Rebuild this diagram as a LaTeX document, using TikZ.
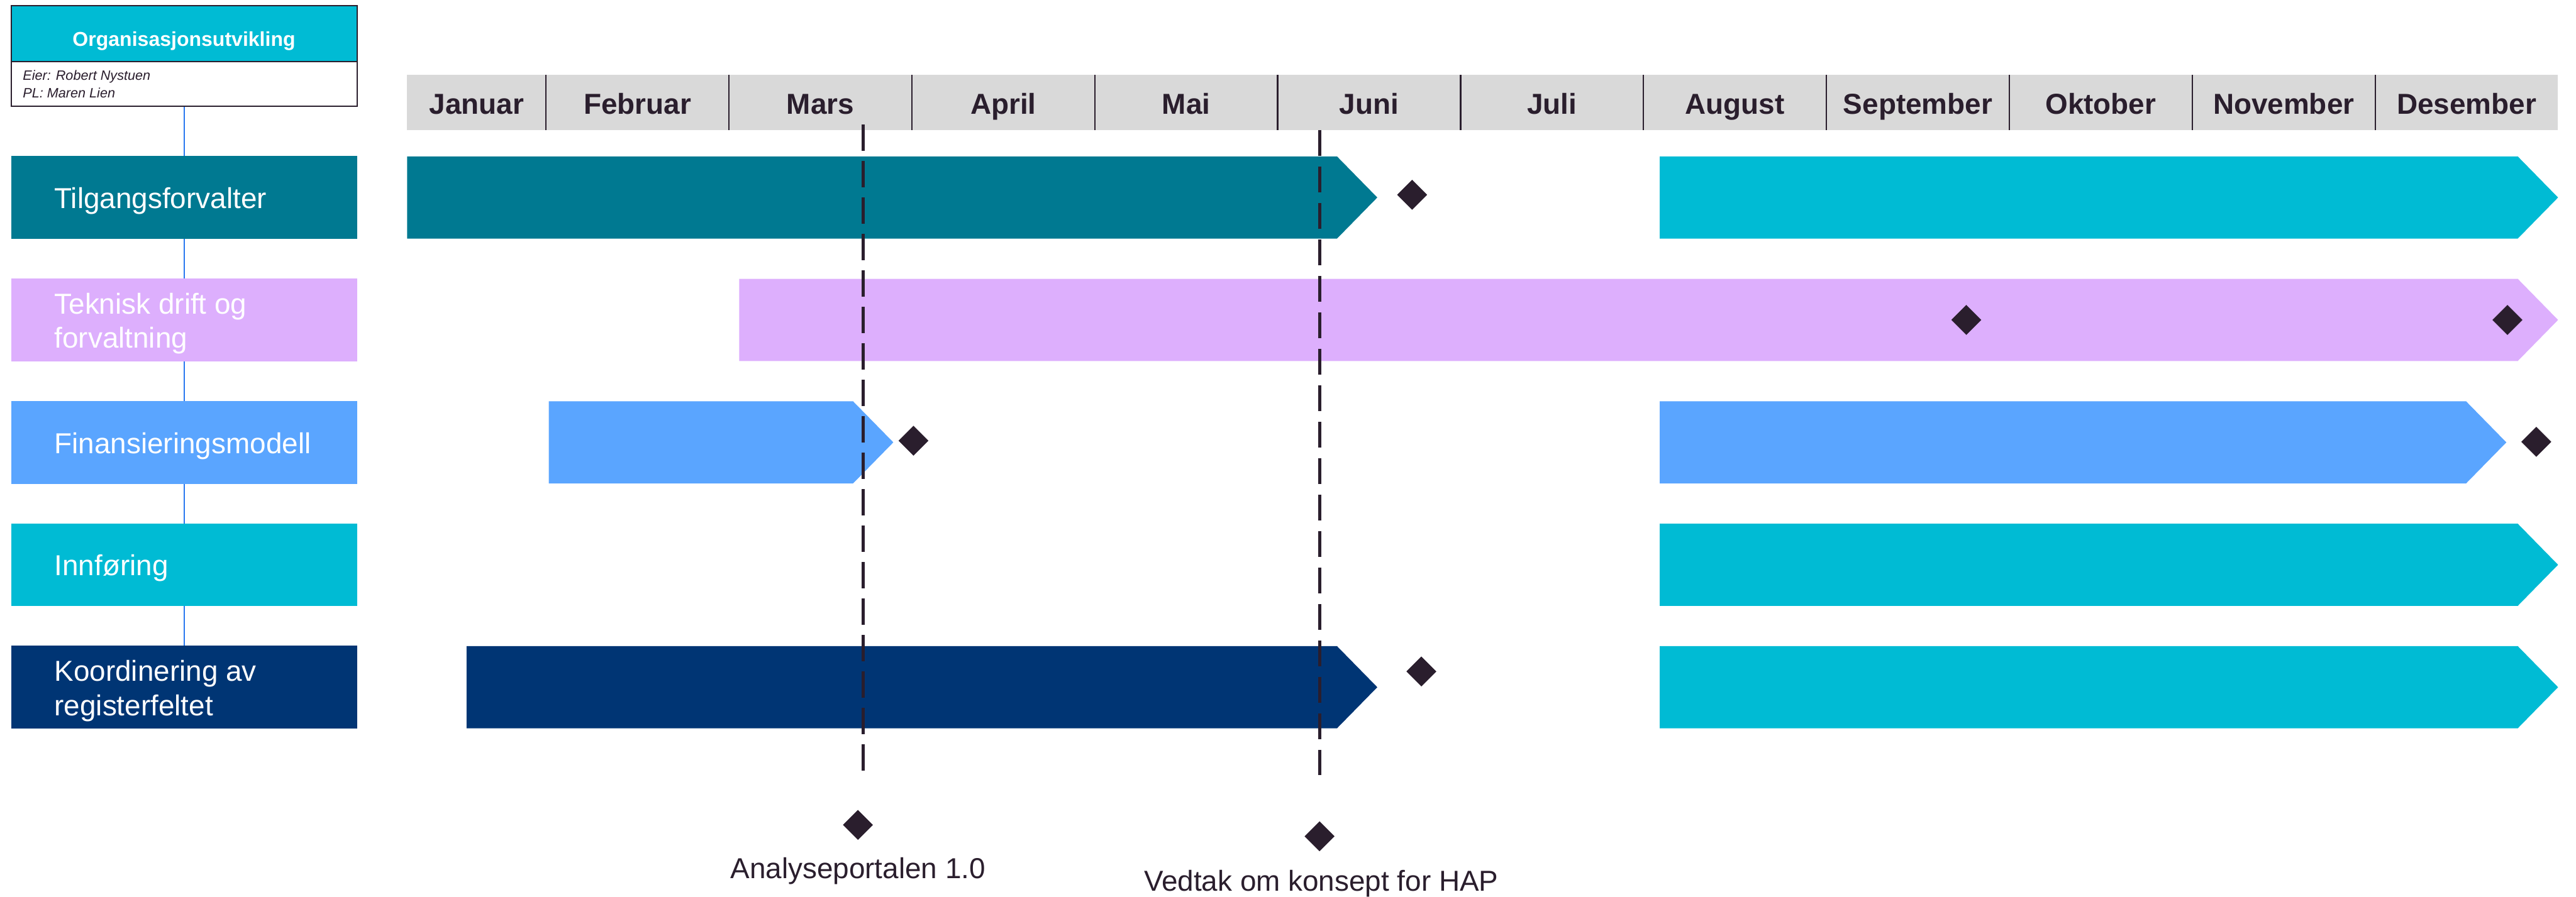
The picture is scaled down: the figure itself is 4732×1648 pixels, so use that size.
\documentclass[tikz,border=0pt]{standalone}
\usepackage{fontspec}
\setmainfont{Liberation Sans}
\usetikzlibrary{shapes.geometric,backgrounds}

\definecolor{ink}{RGB}{42,30,45}
\definecolor{headgray}{RGB}{217,217,217}
\definecolor{tealdark}{RGB}{0,121,145}
\definecolor{cyanbar}{RGB}{0,187,212}
\definecolor{lilac}{RGB}{221,175,253}
\definecolor{skyblue}{RGB}{90,165,255}
\definecolor{navy}{RGB}{0,53,116}
\definecolor{linkblue}{RGB}{40,120,240}

% bar with a pointed end: start x, tip x, top y, colour
\newcommand\ganttbar[4]{%
  \fill[#4] (#1,#3) -- ({#2-74},#3) -- (#2,{#3+75.5}) -- ({#2-74},{#3+151})
    -- (#1,{#3+151}) -- cycle;}

\begin{document}
\begin{tikzpicture}[x=1pt,y=-1pt,
  every node/.style={inner sep=0pt,outer sep=0pt},
  month/.style={font=\fontsize{53}{63}\selectfont\bfseries,text=ink,anchor=base},
  rowlabel/.style={font=\fontsize{53}{63}\selectfont,text=white,anchor=base west},
  rowbox/.style={rectangle,minimum width=635pt,minimum height=152pt},
  milestone/.style={diamond,fill=ink,minimum width=55pt,minimum height=55pt},
  note/.style={font=\fontsize{53}{63}\selectfont,text=ink,anchor=base},
  divider/.style={draw=ink,line width=2.5pt},
  marker/.style={draw=ink,line width=6pt,dash pattern=on 48pt off 19pt}]

\useasboundingbox (0,0) rectangle (4732,1648);

% project box
\node[rectangle,draw=ink,line width=2.5pt,fill=cyanbar,minimum width=635pt,minimum height=103pt]
  (orgtitle) at (338.5,61.5) {};
\node[rectangle,draw=ink,line width=2.5pt,fill=white,minimum width=635pt,minimum height=82pt]
  (orginfo) at (338.5,154) {};
\node[font=\fontsize{37}{44}\selectfont\bfseries,text=white,anchor=base]
  (orgname) at (338,85) {Organisasjonsutvikling};
\node[font=\fontsize{25}{33}\selectfont\itshape,text=ink,anchor=base west]
  (owner) at (42,147) {Eier: Robert Nystuen};
\node[font=\fontsize{25}{33}\selectfont\itshape,text=ink,anchor=base west]
  (lead) at (42,180) {PL: Maren Lien};

% work streams
\node[rowbox,fill=tealdark] (r1) at (338.5,363) {};
\node[rowbox,fill=lilac]    (r2) at (338.5,588) {};
\node[rowbox,fill=skyblue]  (r3) at (338.5,813) {};
\node[rowbox,fill=cyanbar]  (r4) at (338.5,1038) {};
\node[rowbox,fill=navy]     (r5) at (338.5,1263) {};

\begin{scope}[on background layer]
  \draw[linkblue,line width=2pt] (orginfo.south) -- (r5.north);
\end{scope}

\node[rowlabel] (l1) at (100,383) {Tilgangsforvalter};
\node[rowlabel] (l2) at (100,577) {\begin{tabular}[t]{@{}l@{}}Teknisk drift og\\ forvaltning\end{tabular}};
\node[rowlabel] (l3) at (100,833) {Finansieringsmodell};
\node[rowlabel] (l4) at (100,1058) {Innføring};
\node[rowlabel] (l5) at (100,1252) {\begin{tabular}[t]{@{}l@{}}Koordinering av\\ registerfeltet\end{tabular}};

% month header
\fill[headgray] (748,138) rectangle (4699,239);
\foreach \i in {0,...,10}
  \draw[divider] ({1003+336*\i},138) -- ({1003+336*\i},239);
\node[month] (m0) at (875.5,210) {Januar};
\foreach \m [count=\i] in {Februar,Mars,April,Mai,Juni,Juli,August,September,Oktober,November,Desember}
  \node[month] (m\i) at ({1003+336*(\i-1)+168},210) {\m};

% bars
\ganttbar{748}{2530}{287.5}{tealdark}
\ganttbar{3049}{4699}{287.5}{cyanbar}
\ganttbar{1358}{4699}{512.5}{lilac}
\ganttbar{1008}{1641}{737.5}{skyblue}
\ganttbar{3049}{4604}{737.5}{skyblue}
\ganttbar{3049}{4699}{962.5}{cyanbar}
\ganttbar{857}{2530}{1187.5}{navy}
\ganttbar{3049}{4699}{1187.5}{cyanbar}

% key dates
\draw[marker] (1586,229) -- (1586,1425);
\draw[marker] (2424,239) -- (2424,1425);

% milestones
\node[milestone] (ms1) at (2594,358) {};
\node[milestone] (ms2) at (3612,588) {};
\node[milestone] (ms3) at (4606,588) {};
\node[milestone] (ms4) at (1678,810) {};
\node[milestone] (ms5) at (4659,812) {};
\node[milestone] (ms6) at (2611,1234) {};
\node[milestone] (ms7) at (1576,1516) {};
\node[milestone] (ms8) at (2424,1537) {};

\node[note] (n1) at (1576,1615) {Analyseportalen 1.0};
\node[note] (n2) at (2427,1638) {Vedtak om konsept for HAP};
\end{tikzpicture}
\end{document}
